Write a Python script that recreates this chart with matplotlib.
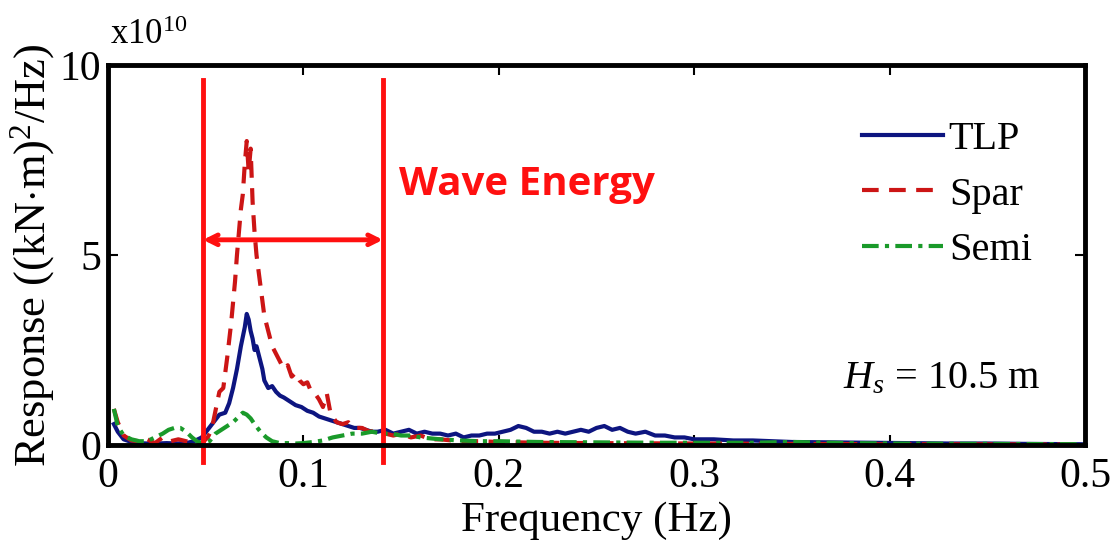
import numpy as np
import matplotlib
matplotlib.use("Agg")
import matplotlib.pyplot as plt

# response spectra, values in units of 1e10 (kN.m)^2/Hz
tlp_f = [0.003, 0.005, 0.008, 0.012, 0.016, 0.02, 0.025, 0.03, 0.035, 0.04, 0.044, 0.048,
         0.051, 0.054, 0.057, 0.06, 0.062, 0.064, 0.066, 0.068, 0.070, 0.071, 0.072, 0.073,
         0.074, 0.075, 0.076, 0.077, 0.078, 0.079, 0.080, 0.082, 0.084, 0.086, 0.088, 0.090,
         0.093, 0.096, 0.099, 0.102, 0.105, 0.108, 0.111, 0.114, 0.117, 0.120, 0.123, 0.126,
         0.129, 0.132, 0.135, 0.138, 0.142, 0.146, 0.150, 0.154, 0.158, 0.162, 0.166, 0.170,
         0.174, 0.178, 0.182, 0.186, 0.190, 0.194, 0.198, 0.202, 0.206, 0.210, 0.214, 0.218,
         0.222, 0.226, 0.230, 0.234, 0.238, 0.242, 0.246, 0.250, 0.254, 0.258, 0.262, 0.266,
         0.270, 0.275, 0.280, 0.285, 0.290, 0.295, 0.300, 0.31, 0.32, 0.33, 0.34, 0.35,
         0.37, 0.39, 0.41, 0.43, 0.45, 0.47, 0.5]
tlp_v = [0.55, 0.35, 0.15, 0.08, 0.05, 0.04, 0.04, 0.05, 0.04, 0.05, 0.1, 0.2,
         0.4, 0.6, 0.8, 0.85, 1.1, 1.5, 2.0, 2.6, 3.1, 3.45, 3.3, 3.0,
         2.8, 2.5, 2.6, 2.4, 2.2, 2.0, 1.7, 1.5, 1.55, 1.4, 1.3, 1.25,
         1.15, 1.05, 1.0, 0.9, 0.85, 0.75, 0.7, 0.65, 0.6, 0.55, 0.5, 0.45,
         0.45, 0.4, 0.35, 0.35, 0.4, 0.3, 0.35, 0.4, 0.3, 0.35, 0.3, 0.3,
         0.25, 0.3, 0.2, 0.25, 0.25, 0.3, 0.3, 0.35, 0.4, 0.5, 0.45, 0.35,
         0.35, 0.3, 0.35, 0.3, 0.35, 0.4, 0.35, 0.45, 0.5, 0.4, 0.45, 0.35,
         0.3, 0.35, 0.25, 0.25, 0.2, 0.2, 0.15, 0.15, 0.12, 0.12, 0.1, 0.08,
         0.07, 0.06, 0.05, 0.04, 0.04, 0.03, 0.02]

spar_f = [0.003, 0.005, 0.008, 0.012, 0.016, 0.02, 0.024, 0.028, 0.032, 0.036, 0.04, 0.044,
          0.048, 0.051, 0.053, 0.055, 0.057, 0.059, 0.061, 0.063, 0.065, 0.066, 0.067, 0.068,
          0.069, 0.070, 0.071, 0.072, 0.073, 0.074, 0.075, 0.076, 0.078, 0.080, 0.082, 0.084,
          0.086, 0.088, 0.090, 0.092, 0.094, 0.096, 0.098, 0.100, 0.102, 0.104, 0.106, 0.108,
          0.110, 0.112, 0.114, 0.117, 0.120, 0.123, 0.126, 0.130, 0.134, 0.138, 0.142, 0.146,
          0.150, 0.155, 0.160, 0.165, 0.170, 0.18, 0.19, 0.2, 0.22, 0.25, 0.3, 0.35,
          0.4, 0.45, 0.5]
spar_v = [0.95, 0.6, 0.25, 0.12, 0.1, 0.15, 0.05, 0.2, 0.1, 0.15, 0.1, 0.05,
          0.05, 0.2, 0.4, 0.9, 1.4, 1.5, 2.3, 3.2, 4.3, 5.0, 5.6, 6.2,
          6.6, 7.4, 8.0, 7.2, 7.8, 6.4, 5.6, 5.0, 4.2, 3.4, 3.0, 2.6,
          2.4, 2.2, 2.0, 2.1, 1.8, 1.9, 1.7, 1.6, 1.65, 1.4, 1.35, 1.2,
          1.0, 1.35, 0.8, 0.6, 0.55, 0.6, 0.45, 0.45, 0.35, 0.4, 0.3, 0.25,
          0.3, 0.2, 0.25, 0.15, 0.15, 0.1, 0.1, 0.08, 0.06, 0.05, 0.04, 0.03,
          0.02, 0.02, 0.01]

semi_f = [0.003, 0.005, 0.008, 0.012, 0.016, 0.02, 0.024, 0.028, 0.031, 0.034, 0.037, 0.040,
          0.043, 0.046, 0.049, 0.052, 0.055, 0.058, 0.061, 0.064, 0.067, 0.069, 0.071, 0.073,
          0.075, 0.078, 0.081, 0.084, 0.088, 0.092, 0.096, 0.10, 0.105, 0.11, 0.115, 0.12,
          0.125, 0.13, 0.135, 0.14, 0.145, 0.15, 0.155, 0.16, 0.17, 0.18, 0.19, 0.2,
          0.22, 0.25, 0.28, 0.3, 0.33, 0.35, 0.38, 0.4, 0.45, 0.5]
semi_v = [0.95, 0.5, 0.25, 0.15, 0.1, 0.1, 0.2, 0.3, 0.4, 0.45, 0.45, 0.35,
          0.2, 0.08, 0.05, 0.1, 0.3, 0.4, 0.5, 0.6, 0.75, 0.85, 0.8, 0.7,
          0.55, 0.35, 0.2, 0.1, 0.05, 0.05, 0.04, 0.05, 0.08, 0.12, 0.2, 0.25,
          0.3, 0.3, 0.35, 0.3, 0.3, 0.25, 0.25, 0.2, 0.15, 0.12, 0.1, 0.1,
          0.08, 0.07, 0.06, 0.06, 0.06, 0.08, 0.05, 0.04, 0.03, 0.02]

band = [0.0486, 0.1407]

serif = "Liberation Serif"
plt.rcParams["font.family"] = serif
plt.rcParams["mathtext.fontset"] = "custom"
plt.rcParams["mathtext.rm"] = serif
plt.rcParams["mathtext.it"] = serif + ":italic"

fig = plt.figure(figsize=(11.18, 5.52), dpi=100)
ax = fig.add_axes([0.0966, 0.1938, 0.8739, 0.6884])

ax.plot(tlp_f, tlp_v, color="#0d1580", lw=3, label="TLP")
ax.plot(spar_f, spar_v, color="#cc1515", lw=3, ls=(0, (4, 2.5)), label="Spar")
ax.plot(semi_f, semi_v, color="#1a9a2a", lw=3, ls=(0, (4, 1.5, 1, 1.5)), label="Semi")

ax.set_xlim(0, 0.5)
ax.set_ylim(0, 10)
ax.set_xticks([0, 0.1, 0.2, 0.3, 0.4, 0.5])
ax.set_xticklabels(["0", "0.1", "0.2", "0.3", "0.4", "0.5"])
ax.set_yticks([0, 5, 10])
ax.tick_params(direction="in", labelsize=30, length=7, width=1.5, top=True, right=True, pad=9)
ax.tick_params(axis="y", pad=5)
for s in ax.spines.values():
    s.set_linewidth(3.5)

ax.set_xlabel("Frequency (Hz)", fontsize=31, labelpad=4)
ax.set_ylabel("Response ((kN$\\cdot$m)$^2$/Hz)", fontsize=32, labelpad=2)
fig.text(0.098, 0.905, "x10$^{10}$", fontsize=25, ha="left", va="bottom")

# wave energy band
for x in band:
    ax.plot([x, x], [9.6, -0.45], color="#ff1010", lw=3.5, clip_on=False)
ax.annotate("", xy=(band[0], 5.4), xytext=(band[1], 5.4),
            arrowprops=dict(arrowstyle="<->,head_length=0.7,head_width=0.35",
                            color="#ff1010", lw=3.5, shrinkA=0, shrinkB=0))
ax.text(0.149, 6.85, "Wave Energy", color="#ff1010", fontsize=29, fontweight="bold",
        family="Open Sans", ha="left", va="center")

ax.text(0.376, 1.75, "$H_s$ = 10.5 m", fontsize=29, ha="left", va="center")

ax.legend(loc="upper right", bbox_to_anchor=(0.962, 0.895), frameon=False, fontsize=29,
          handlelength=2.0, handletextpad=0.15, labelspacing=0.45, borderaxespad=0)

fig.savefig("out.png", dpi=100)
